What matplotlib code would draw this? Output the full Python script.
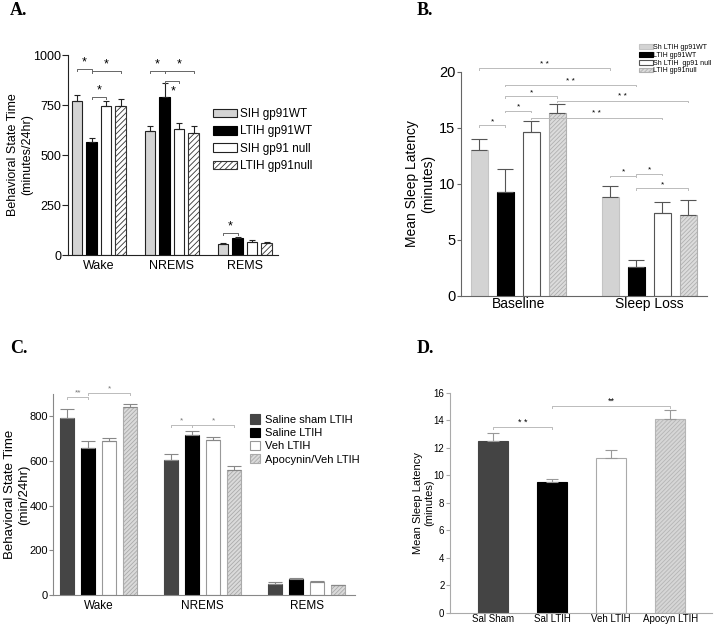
import numpy as np
import matplotlib.pyplot as plt
from matplotlib.patches import Patch

plt.rcParams['font.family'] = ['Liberation Sans', 'DejaVu Sans']
plt.rcParams['hatch.linewidth'] = 0.6

# ---- panel A: behavioral state time, gp91 mice
a_groups = ['Wake', 'NREMS', 'REMS']
a_series = ['SIH gp91WT', 'LTIH gp91WT', 'SIH gp91 null', 'LTIH gp91null']
a_means = [[770, 618, 55], [565, 792, 83], [745, 632, 65], [745, 610, 58]]
a_errs = [[30, 25, 3], [22, 70, 5], [25, 30, 8], [33, 35, 8]]
a_sig = [((0, 0), (0, 1), 928, '*', False), ((0, 1), (0, 3), 922, '*', False),
         ((0, 1), (0, 2), 792, '*', False), ((1, 0), (1, 1), 920, '*', False),
         ((1, 1), (1, 3), 920, '*', False), ((1, 1), (1, 2), 872, '*', True),
         ((2, 0), (2, 1), 108, '*', False)]

# ---- panel B: mean sleep latency, gp91 mice
b_groups = ['Baseline', 'Sleep Loss']
b_series = ['Sh LTIH gp91WT', 'LTIH gp91WT', 'Sh LTIH  gp91 null', 'LTIH gp91null']
b_means = [[13.0, 8.8], [9.3, 2.6], [14.6, 7.4], [16.3, 7.2]]
b_errs = [[1.0, 1.0], [2.0, 0.6], [1.0, 1.0], [0.8, 1.4]]
b_sig = [((0, 0), (1, 0), 20.3, '* *'), ((0, 1), (1, 1), 18.8, '* *'),
         ((0, 1), (0, 3), 17.8, '*'), ((0, 3), (1, 3), 17.4, '* *'),
         ((0, 1), (0, 2), 16.5, '*'), ((0, 2), (1, 2), 15.9, '* *'),
         ((0, 0), (0, 1), 15.2, '*'), ((1, 0), (1, 1), 10.7, '*'),
         ((1, 1), (1, 2), 10.9, '*'), ((1, 1), (1, 3), 9.6, '*')]

# ---- panel C: behavioral state time, apocynin
c_groups = ['Wake', 'NREMS', 'REMS']
c_series = ['Saline sham LTIH', 'Saline LTIH', 'Veh LTIH', 'Apocynin/Veh LTIH']
c_means = [[792, 604, 48], [658, 718, 70], [691, 695, 60], [840, 562, 43]]
c_errs = [[42, 27, 9], [30, 16, 5], [12, 14, 3], [15, 17, 3]]
c_sig = [((0, 0), (0, 1), 887, '**'), ((0, 1), (0, 3), 905, '*'),
         ((1, 0), (1, 1), 763, '*'), ((1, 1), (1, 3), 763, '*')]

# ---- panel D: mean sleep latency, apocynin
d_cats = ['Sal Sham', 'Sal LTIH', 'Veh LTIH', 'Apocyn LTIH']
d_means = [12.48, 9.48, 11.22, 14.11]
d_errs = [0.62, 0.22, 0.58, 0.6]
d_sig = [(0, 1, 13.48, '* *'), (1, 3, 15.0, '**')]


def grouped(ax, means, errs, styles, spacing, width, ecol, cap):
    ng = len(means[0])
    xs = []
    for i, (m, e, st) in enumerate(zip(means, errs, styles)):
        x = np.arange(ng) + (i - 1.5) * spacing
        ax.bar(x, m, width, **st)
        ax.errorbar(x, m, yerr=[np.zeros(ng), e], fmt='none', ecolor=ecol,
                    elinewidth=0.8, capsize=cap, capthick=0.8)
        xs.append(x)
    return xs


def bracket(ax, x1, x2, y, txt, drop, lcol, fs, below=False, tcol='black'):
    ax.plot([x1, x1, x2, x2], [y - drop, y, y, y - drop], color=lcol, lw=0.7,
            clip_on=False)
    if below:
        ax.text((x1 + x2) / 2 + 0.02, y - drop * 2.5, txt, ha='center', va='top',
                fontsize=fs, color=tcol, clip_on=False)
    else:
        ax.text((x1 + x2) / 2, y + drop * 0.3, txt, ha='center', va='bottom',
                fontsize=fs, color=tcol, clip_on=False)


def clean(ax, col):
    for s in ['top', 'right']:
        ax.spines[s].set_visible(False)
    for s in ['left', 'bottom']:
        ax.spines[s].set_color(col)
        ax.spines[s].set_linewidth(0.8)
    ax.tick_params(colors=col, labelcolor='black', width=0.8)
    ax.tick_params(axis='x', length=0)


fig = plt.figure(figsize=(7.2, 6.28), dpi=100)

# ---------------- A
axA = fig.add_axes([0.0944, 0.5939, 0.2917, 0.3185])
a_styles = [dict(facecolor='#d4d4d4', edgecolor='#222222', lw=0.8),
            dict(facecolor='black', edgecolor='black', lw=0.8),
            dict(facecolor='white', edgecolor='#222222', lw=0.8),
            dict(facecolor='white', edgecolor='#333333', lw=0.8, hatch='//////')]
xa = grouped(axA, a_means, a_errs, a_styles, 0.1986, 0.144, '#222222', 2.2)
axA.set_xlim(-0.4247, 2.452)
axA.set_ylim(0, 1000)
axA.set_yticks([0, 250, 500, 750, 1000])
axA.set_xticks(range(3))
axA.set_xticklabels(a_groups, fontsize=9)
axA.tick_params(axis='y', labelsize=9, length=4, pad=1)
axA.set_ylabel('Behavioral State Time\n(minutes/24hr)', fontsize=9)
axA.yaxis.set_label_coords(-0.167, 0.5)
clean(axA, '#222222')
for p1, p2, y, t, below in a_sig:
    bracket(axA, xa[p1[1]][p1[0]], xa[p2[1]][p2[0]], y, t, 10, '#666666', 9, below)
hA = [Patch(label=l, **s) for l, s in zip(a_series, a_styles)]
fig.legend(handles=hA, loc='upper left', bbox_to_anchor=(0.296, 0.828),
           frameon=False, fontsize=8.5, handlelength=2.0, handleheight=0.75,
           handletextpad=0.25, labelspacing=0.45, borderaxespad=0, borderpad=0)

# ---------------- B
axB = fig.add_axes([0.640, 0.5287, 0.3417, 0.3572])
b_styles = [dict(facecolor='#d3d3d3', edgecolor='#c4c4c4', lw=0.8),
            dict(facecolor='black', edgecolor='black', lw=0.8),
            dict(facecolor='white', edgecolor='#555555', lw=0.8),
            dict(facecolor='#dcdcdc', edgecolor='#b0b0b0', lw=0.8, hatch='////////')]
xb = grouped(axB, b_means, b_errs, b_styles, 0.1985, 0.13, '#555555', 5.5)
axB.set_xlim(-0.439, 1.439)
axB.set_ylim(0, 20)
axB.set_yticks([0, 5, 10, 15, 20])
axB.set_xticks(range(2))
axB.set_xticklabels(b_groups, fontsize=10)
axB.tick_params(axis='y', labelsize=10.5, length=3, pad=1)
axB.tick_params(axis='x', pad=1)
axB.set_ylabel('Mean Sleep Latency\n(minutes)', fontsize=10)
axB.yaxis.set_label_coords(-0.105, 0.5)
clean(axB, '#666666')
for p1, p2, y, t in b_sig:
    bracket(axB, xb[p1[1]][p1[0]], xb[p2[1]][p2[0]], y, t, 0.12, '#bbbbbb', 6)
hB = [Patch(label=l, **s) for l, s in zip(b_series, b_styles)]
fig.legend(handles=hB, loc='upper left', bbox_to_anchor=(0.887, 0.930),
           frameon=False, fontsize=5, handlelength=2.0, handleheight=0.7,
           handletextpad=0.1, labelspacing=0.12, borderaxespad=0, borderpad=0)

# ---------------- C
axC = fig.add_axes([0.074, 0.0525, 0.419, 0.3201])
c_styles = [dict(facecolor='#454545', edgecolor='#454545', lw=0.8),
            dict(facecolor='black', edgecolor='black', lw=0.8),
            dict(facecolor='white', edgecolor='#999999', lw=0.8),
            dict(facecolor='#dadada', edgecolor='#aaaaaa', lw=0.8, hatch='////////')]
xc = grouped(axC, c_means, c_errs, c_styles, 0.202, 0.1346, '#888888', 5)
axC.set_xlim(-0.4365, 2.4644)
axC.set_ylim(0, 900)
axC.set_yticks([0, 200, 400, 600, 800])
axC.set_xticks(range(3))
axC.set_xticklabels(c_groups, fontsize=8.5)
axC.tick_params(axis='y', labelsize=8, length=3, pad=1)
axC.set_ylabel('Behavioral State Time\n(min/24hr)', fontsize=9.5)
axC.yaxis.set_label_coords(-0.077, 0.5)
clean(axC, '#888888')
for p1, p2, y, t in c_sig:
    bracket(axC, xc[p1[1]][p1[0]], xc[p2[1]][p2[0]], y, t, 9, '#bbbbbb', 6,
            tcol='#777777')
hC = [Patch(label=l, **s) for l, s in zip(c_series, c_styles)]
fig.legend(handles=hC, loc='upper left', bbox_to_anchor=(0.347, 0.340),
           frameon=False, fontsize=8, handlelength=0.9, handleheight=0.9,
           handletextpad=0.5, labelspacing=0.25, borderaxespad=0, borderpad=0)

# ---------------- D
axD = fig.add_axes([0.625, 0.0244, 0.3635, 0.3503])
d_styles = [dict(facecolor='#444444', edgecolor='#444444', lw=0.8),
            dict(facecolor='black', edgecolor='black', lw=0.8),
            dict(facecolor='white', edgecolor='#aaaaaa', lw=0.8),
            dict(facecolor='#d6d6d6', edgecolor='#b5b5b5', lw=0.8, hatch='////////')]
xd = np.arange(len(d_cats))
for i in range(len(d_cats)):
    axD.bar(xd[i], d_means[i], 0.508, **d_styles[i])
axD.errorbar(xd, d_means, yerr=[np.zeros(len(d_cats)), d_errs], fmt='none',
             ecolor='#999999', elinewidth=0.8, capsize=4.5, capthick=0.8)
axD.set_xlim(-0.734, 3.702)
axD.set_ylim(0, 16)
axD.set_yticks(range(0, 17, 2))
axD.set_xticks(xd)
axD.set_xticklabels(d_cats, fontsize=7)
axD.tick_params(axis='y', labelsize=7, length=3, pad=1)
axD.tick_params(axis='x', pad=1)
axD.set_ylabel('Mean Sleep Latency\n(minutes)', fontsize=8)
axD.yaxis.set_label_coords(-0.06, 0.5)
clean(axD, '#aaaaaa')
for i, j, y, t in d_sig:
    bracket(axD, xd[i], xd[j], y, t, 0.1, '#bbbbbb', 6.5)

# panel letters
for x, y, t in [(0.014, 0.997, 'A.'), (0.578, 0.997, 'B.'),
                (0.014, 0.458, 'C.'), (0.578, 0.458, 'D.')]:
    fig.text(x, y, t, fontsize=13, fontweight='bold', family='Liberation Serif',
             va='top', ha='left')

fig.savefig('out.png', dpi=100)
